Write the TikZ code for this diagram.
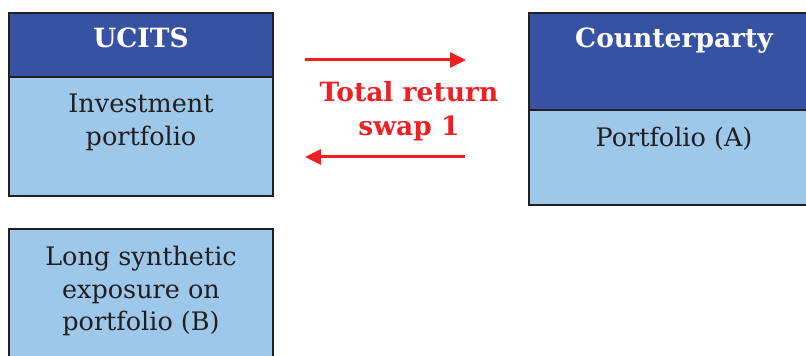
\documentclass[tikz,border=0pt]{standalone}
\usepackage{fontspec}
\setmainfont{DejaVu Serif}
\usetikzlibrary{arrows.meta}
\definecolor{hdr}{HTML}{3752A3}
\definecolor{bdy}{HTML}{9DC8EA}
\definecolor{edge}{HTML}{231F20}
\definecolor{swapred}{HTML}{EE2024}
\begin{document}
\begin{tikzpicture}[x=1pt,y=1pt,
  box/.style={draw=edge,line width=1.8pt,inner sep=0pt,outer sep=0pt},
  hbox/.style={box,fill=hdr},
  bbox/.style={box,fill=bdy},
  htext/.style={text=white,font=\fontsize{26.5}{30}\selectfont\bfseries,align=center,anchor=north,inner sep=0pt},
  btext/.style={text=edge,font=\fontsize{25.5}{32.5}\selectfont,align=center,anchor=north,inner sep=0pt},
  rtext/.style={text=swapred,font=\fontsize{26.5}{34}\selectfont\bfseries,align=center,inner sep=0pt},
  flow/.style={draw=swapred,line width=3pt,-{Triangle[length=16pt,width=15pt]}}]
\useasboundingbox (0,0) rectangle (806,356);
\clip (0,0) rectangle (806,356);
% UCITS
\node[hbox,minimum width=264pt,minimum height=64pt] (ucH) at (141,311) {};
\node[bbox,minimum width=264pt,minimum height=119pt,anchor=north] (ucB) at (ucH.south) {};
\node[htext] (ucHt) at ([yshift=-15pt]ucH.north) {UCITS};
\node[btext] (ucBt) at ([yshift=-17pt]ucB.north) {Investment\\portfolio};
% Counterparty
\node[hbox,minimum width=290pt,minimum height=97pt] (cpH) at (674,294.5) {};
\node[bbox,minimum width=290pt,minimum height=95pt,anchor=north] (cpB) at (cpH.south) {};
\node[htext] (cpHt) at ([yshift=-15pt]cpH.north) {Counterparty};
\node[btext] (cpBt) at ([yshift=-17pt]cpB.north) {Portfolio (A)};
% Long synthetic
\node[bbox,minimum width=264pt,minimum height=150pt,anchor=north] (ls) at (141,127) {};
\node[btext] (lst) at ([yshift=-17pt]ls.north) {Long synthetic\\exposure on\\portfolio (B)};
% swap
\node[rtext] (swap) at (409,245) {Total return\\swap 1};
\coordinate (a1s) at (305,296);
\coordinate (a1e) at (466,296);
\coordinate (a2s) at (465,199);
\coordinate (a2e) at (305,199);
\draw[flow] (a1s) -- (a1e);
\draw[flow] (a2s) -- (a2e);
\end{tikzpicture}
\end{document}
